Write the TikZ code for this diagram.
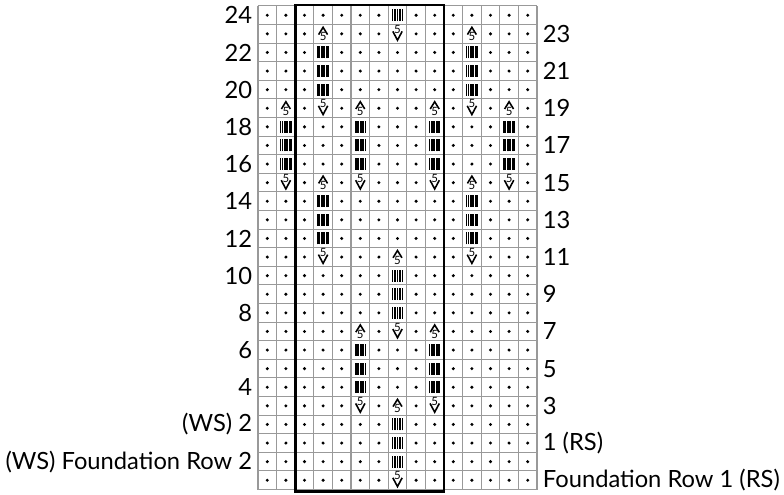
\documentclass[tikz,border=0pt]{standalone}
\usepackage{fontspec}
\setmainfont{Lato}

\begin{document}
\begin{tikzpicture}[x=0.372cm,y=0.372cm,font=\fontsize{13.5}{15}\selectfont]
  \tikzset{gridline/.style={draw=black!40,line width=0.6pt}}
  \tikzset{frame/.style={draw=black,line width=1.6pt}}
  \tikzset{barline/.style={draw=black,line width=0.7pt}}
  \tikzset{chev/.style={draw=black,line width=0.9pt,line join=miter}}
  \tikzset{five/.style={font=\fontsize{6.5}{7}\selectfont,inner sep=0pt}}
  \tikzset{lblL/.style={anchor=east,inner sep=0pt}}
  \tikzset{lblR/.style={anchor=west,inner sep=0pt}}
  \def\kd{d}
  \def\kb{b}
  \def\ku{u}
  \def\kv{v}

  \useasboundingbox (-13.87,-0.29) rectangle (28.28,26.32);

  % Grid: 15 sts x 26 rows
  \foreach \col in {0,...,15} \draw[gridline] (\col,0) -- (\col,26);
  \foreach \row in {0,...,26} \draw[gridline] (0,\row) -- (15,\row);

  % Stitches, top row first (d = dot, b = bar, u = up 5, v = down 5)
  \foreach \y/\cells in {
    25/{d,d,d,d,d,d,d,b,d,d,d,d,d,d,d},
    24/{d,d,d,u,d,d,d,v,d,d,d,u,d,d,d},
    23/{d,d,d,b,d,d,d,d,d,d,d,b,d,d,d},
    22/{d,d,d,b,d,d,d,d,d,d,d,b,d,d,d},
    21/{d,d,d,b,d,d,d,d,d,d,d,b,d,d,d},
    20/{d,u,d,v,d,u,d,d,d,u,d,v,d,u,d},
    19/{d,b,d,d,d,b,d,d,d,b,d,d,d,b,d},
    18/{d,b,d,d,d,b,d,d,d,b,d,d,d,b,d},
    17/{d,b,d,d,d,b,d,d,d,b,d,d,d,b,d},
    16/{d,v,d,u,d,v,d,d,d,v,d,u,d,v,d},
    15/{d,d,d,b,d,d,d,d,d,d,d,b,d,d,d},
    14/{d,d,d,b,d,d,d,d,d,d,d,b,d,d,d},
    13/{d,d,d,b,d,d,d,d,d,d,d,b,d,d,d},
    12/{d,d,d,v,d,d,d,u,d,d,d,v,d,d,d},
    11/{d,d,d,d,d,d,d,b,d,d,d,d,d,d,d},
    10/{d,d,d,d,d,d,d,b,d,d,d,d,d,d,d},
    9/{d,d,d,d,d,d,d,b,d,d,d,d,d,d,d},
    8/{d,d,d,d,d,u,d,v,d,u,d,d,d,d,d},
    7/{d,d,d,d,d,b,d,d,d,b,d,d,d,d,d},
    6/{d,d,d,d,d,b,d,d,d,b,d,d,d,d,d},
    5/{d,d,d,d,d,b,d,d,d,b,d,d,d,d,d},
    4/{d,d,d,d,d,v,d,u,d,v,d,d,d,d,d},
    3/{d,d,d,d,d,d,d,b,d,d,d,d,d,d,d},
    2/{d,d,d,d,d,d,d,b,d,d,d,d,d,d,d},
    1/{d,d,d,d,d,d,d,b,d,d,d,d,d,d,d},
    0/{d,d,d,d,d,d,d,v,d,d,d,d,d,d,d}} {
    \foreach \s [count=\col] in \cells {
      \begin{scope}[shift={(\col-0.5,\y+0.5)}]
        \ifx\s\kd \fill (0,0) circle (0.09); \fi
        \ifx\s\kb
          \foreach \i in {0,...,6} \draw[barline] (-0.27+0.09*\i,-0.32) -- ++(0,0.64);
        \fi
        \ifx\s\ku
          \draw[chev] (-0.24,-0.04) -- (0,0.35) -- (0.24,-0.04);
          \node[five] (f) at (0,-0.16) {5};
        \fi
        \ifx\s\kv
          \node[five] (f) at (0,0.24) {5};
          \draw[chev] (-0.25,0.13) -- (0,-0.34) -- (0.25,0.13);
        \fi
      \end{scope}
    }
  }

  % Repeat box
  \draw[frame] (2,-0.12) rectangle (10,26.05);

  % Row numbers
  \foreach \n in {24,22,...,4} \node[lblL] (rowL\n) at (-0.3,\n+1.5) {\n};
  \node[lblL] (rowL2) at (-0.3,3.5) {(WS) 2};
  \node[lblL] (rowFR2) at (-0.3,1.5) {(WS) Foundation Row 2};
  \foreach \n in {23,21,...,3} \node[lblR] (rowR\n) at (15.3,\n+1.5) {\n};
  \node[lblR] (rowR1) at (15.3,2.5) {1 (RS)};
  \node[lblR] (rowFR1) at (15.3,0.5) {Foundation Row 1 (RS)};
\end{tikzpicture}
\end{document}
